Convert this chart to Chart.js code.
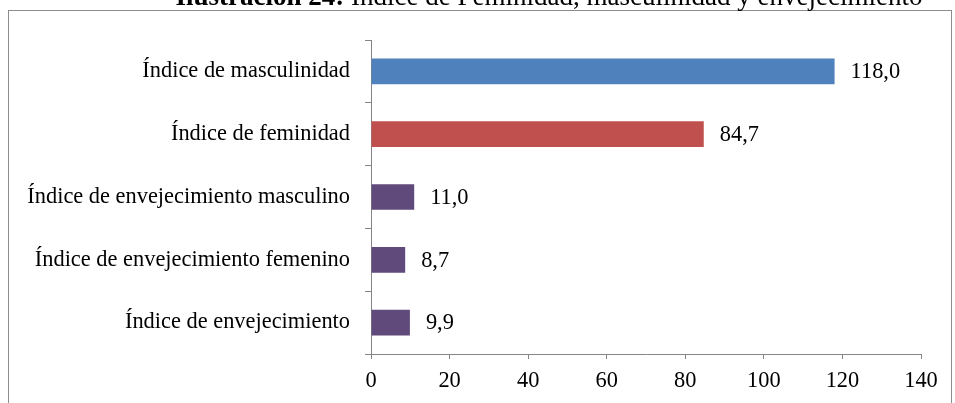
<!DOCTYPE html>
<html>
<head>
<meta charset="utf-8">
<script src="https://cdn.jsdelivr.net/npm/chart.js@4"></script>
<style>
  body { margin: 0; background: white; }
  #chart-box { display: block; }
</style>
</head>
<body>
<canvas id="chart-box" width="955" height="403"></canvas>
<script>
const categories = [
  "Índice de masculinidad",
  "Índice de feminidad",
  "Índice de envejecimiento masculino",
  "Índice de envejecimiento femenino",
  "Índice de envejecimiento",
];
const values = [118.0, 84.7, 11.0, 8.7, 9.9];
const barColors = ["#4F81BD", "#C0504D", "#604A7B", "#604A7B", "#604A7B"];
const xTicks = [0, 20, 40, 60, 80, 100, 120, 140];
const titleBold = "Ilustración 24:";
const titleRest = " Índice de Feminidad, masculinidad y envejecimiento";

const FONT = "Liberation Serif";
const FONT_SIZE = 22.4;
const AXIS_GRAY = "#868686";

// frame around the chart + the title cut off at the top
const framePlugin = {
  id: "frame",
  beforeDraw(chart) {
    const ctx = chart.ctx;
    ctx.save();
    ctx.fillStyle = "white";
    ctx.fillRect(0, 0, chart.width, chart.height);
    ctx.strokeStyle = "#8c8c8c";
    ctx.lineWidth = 1;
    ctx.strokeRect(8.5, 10.5, 943, 420);

    ctx.fillStyle = "black";
    ctx.textBaseline = "alphabetic";
    ctx.font = "bold 27px '" + FONT + "'";
    const w1 = ctx.measureText(titleBold).width;
    ctx.font = "27px '" + FONT + "'";
    const w2 = ctx.measureText(titleRest).width;
    const x = 549 - (w1 + w2) / 2;
    ctx.font = "bold 27px '" + FONT + "'";
    ctx.fillText(titleBold, x, 5);
    ctx.font = "27px '" + FONT + "'";
    ctx.fillText(titleRest, x + w1, 5);
    ctx.restore();
  },
};

// value labels to the right of each bar
const valueLabels = {
  id: "valueLabels",
  afterDatasetsDraw(chart) {
    const ctx = chart.ctx;
    const meta = chart.getDatasetMeta(0);
    ctx.save();
    ctx.font = FONT_SIZE + "px '" + FONT + "'";
    ctx.fillStyle = "black";
    ctx.textAlign = "left";
    ctx.textBaseline = "middle";
    meta.data.forEach((bar, i) => {
      const txt = values[i].toFixed(1).replace(".", ",");
      ctx.fillText(txt, bar.x + 16, bar.y + 1);
    });
    ctx.restore();
  },
};

function loadChart() {
  const ctx = document.getElementById("chart-box").getContext("2d");
  return new Chart(ctx, {
    type: "bar",
    data: {
      labels: categories,
      datasets: [{
        data: values,
        backgroundColor: barColors,
        borderWidth: 0,
        barPercentage: 0.41,
        categoryPercentage: 1,
      }],
    },
    options: {
      indexAxis: "y",
      responsive: false,
      animation: false,
      layout: {
        padding: { left: 0, right: 34, top: 40, bottom: 0 },
      },
      plugins: {
        legend: { display: false },
        title: { display: false },
        tooltip: { enabled: false },
      },
      scales: {
        x: {
          type: "linear",
          min: xTicks[0],
          max: xTicks[xTicks.length - 1],
          afterBuildTicks: (scale) => {
            scale.ticks = xTicks.map(v => ({ value: v }));
          },
          afterFit: (scale) => {
            scale.height = 49;
          },
          grid: {
            drawOnChartArea: false,
            drawTicks: true,
            tickLength: 5,
            color: AXIS_GRAY,
          },
          border: { color: AXIS_GRAY, width: 1 },
          ticks: {
            color: "black",
            padding: 9,
            maxRotation: 0,
            font: { family: FONT, size: FONT_SIZE },
          },
        },
        y: {
          afterFit: (scale) => {
            scale.width = 371;
          },
          grid: {
            drawOnChartArea: false,
            drawTicks: true,
            tickLength: 6,
            color: AXIS_GRAY,
            offset: true,
          },
          border: { color: AXIS_GRAY, width: 1 },
          ticks: {
            color: "black",
            padding: 15,
            font: { family: FONT, size: FONT_SIZE },
          },
        },
      },
    },
    plugins: [framePlugin, valueLabels],
  });
}

loadChart();
</script>
</body>
</html>
